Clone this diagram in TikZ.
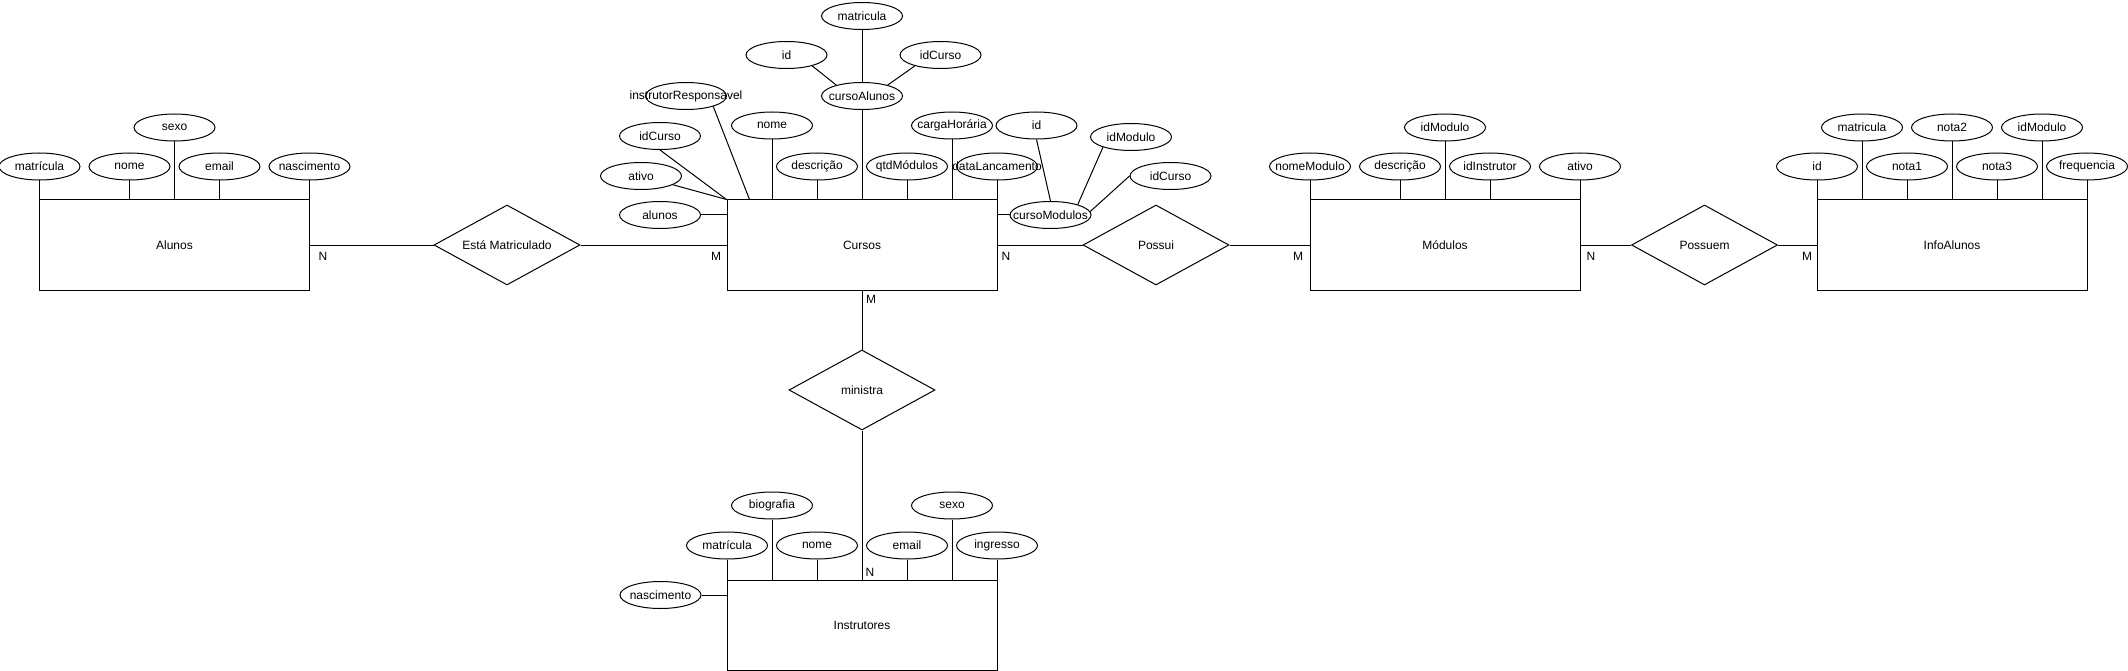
\documentclass[tikz,border=0pt]{standalone}
\usepackage{fontspec}
\setmainfont{Liberation Sans}
\usetikzlibrary{shapes.geometric,calc}
\newcommand{\mytxt}[1]{\makebox[0pt]{#1}}
\begin{document}
\begin{tikzpicture}[x=1pt,y=-1pt,
  every node/.style={font=\fontsize{12}{14}\selectfont},
  ent/.style={draw, line width=1pt, minimum width=270pt, minimum height=90pt, inner sep=0pt},
  attr/.style={draw, ellipse, fill=white, line width=1pt, minimum width=81pt, minimum height=27pt, inner sep=0pt},
  rel/.style={draw, diamond, line width=1pt, minimum width=146pt, minimum height=80pt, inner sep=0pt},
  card/.style={inner sep=0pt},
  link/.style={line width=1pt}]
\useasboundingbox[fill=white] (0,0) rectangle (2128,671);

% entities
\node[ent] (alunos) at (174.5,245) {Alunos};
\node[ent] (cursos) at (862,245) {Cursos};
\node[ent] (modulos) at (1445,245) {Módulos};
\node[ent] (info) at (1952,245) {InfoAlunos};
\node[ent] (instr) at (862,625) {Instrutores};

% relationships
\node[rel] (matric) at (507,245) {\mytxt{Está Matriculado}};
\node[rel] (possui) at (1156,245) {\mytxt{Possui}};
\node[rel] (possuem) at (1704.5,245) {\mytxt{Possuem}};
\node[rel] (ministra) at (862,390) {\mytxt{ministra}};

\draw[link] (alunos.east) -- (matric.west);
\draw[link] (matric.east) -- (cursos.west);
\draw[link] (cursos.east) -- (possui.west);
\draw[link] (possui.east) -- (modulos.west);
\draw[link] (modulos.east) -- (possuem.west);
\draw[link] (possuem.east) -- (info.west);
\draw[link] (cursos.south) -- (ministra.north);
\draw[link] (ministra.south) -- (instr.north);

% cardinalities
\node[card] (n1) at (323,256) {N};
\node[card] (m1) at (716,256) {M};
\node[card] (n2) at (1006,256) {N};
\node[card] (m2) at (1298,256) {M};
\node[card] (n3) at (1591,256) {N};
\node[card] (m3) at (1807,256) {M};
\node[card] (m4) at (871,299) {M};
\node[card] (n4) at (870,572) {N};

% Alunos attributes
\node[attr] (a_mat) at (39.5,166.5) {\mytxt{matrícula}};
\node[attr] (a_nome) at (129.5,166.5) {\mytxt{nome}};
\node[attr] (a_sexo) at (174.5,127.5) {\mytxt{sexo}};
\node[attr] (a_email) at (219.5,166.5) {\mytxt{email}};
\node[attr] (a_nasc) at (309.5,166.5) {\mytxt{nascimento}};
\foreach \n in {a_mat,a_nome,a_sexo,a_email,a_nasc}
  \draw[link] (\n.south) -- (\n.south |- alunos.north);

% Cursos attributes
\node[attr] (c_instr) at (686,96) {\mytxt{instrutorResponsavel}};
\node[attr] (c_idc) at (660,136) {\mytxt{idCurso}};
\node[attr] (c_ativo) at (641,176) {\mytxt{ativo}};
\node[attr] (c_alunos) at (660,215) {\mytxt{alunos}};
\node[attr] (c_nome) at (772,125.5) {\mytxt{nome}};
\node[attr] (c_desc) at (817,166.5) {\mytxt{descrição}};
\node[attr] (c_qtd) at (907,166.5) {\mytxt{qtdMódulos}};
\node[attr] (c_carga) at (952,125.5) {\mytxt{cargaHorária}};
\node[attr] (c_data) at (997,166.5) {\mytxt{dataLancamento}};
\node[attr] (cursoAlunos) at (862,96) {\mytxt{cursoAlunos}};
\node[attr] (ca_mat) at (862,16) {\mytxt{matricula}};
\node[attr] (ca_id) at (786.5,55) {\mytxt{id}};
\node[attr] (ca_idc) at (940.5,55) {\mytxt{idCurso}};
\node[attr] (cursoModulos) at (1050.5,215) {\mytxt{cursoModulos}};
\node[attr] (cm_id) at (1036.5,125.5) {\mytxt{id}};
\node[attr] (cm_idMod) at (1131,137) {\mytxt{idModulo}};
\node[attr] (cm_idc) at (1170.5,176) {\mytxt{idCurso}};

\draw[link] (c_instr.-21) -- ($(cursos.north west)+(23,0)$);
\draw[link] (c_idc.south) -- (cursos.north west);
\draw[link] (c_ativo) -- (cursos.north west);
\draw[link] (c_alunos.east) -- (c_alunos.east -| cursos.west);
\foreach \n in {c_nome,c_desc,c_qtd,c_carga,c_data,cursoAlunos}
  \draw[link] (\n.south) -- (\n.south |- cursos.north);
\draw[link] (ca_mat.south) -- (cursoAlunos.north);
\draw[link] (ca_id.-23) -- (cursoAlunos.157);
\draw[link] (ca_idc.203) -- (cursoAlunos.23);
\draw[link] (cursoModulos.west -| cursos.east) -- (cursoModulos.west);
\draw[link] (cm_id.south) -- (cursoModulos.north);
\draw[link] (cm_idMod.200) -- (cursoModulos.21);
\draw[link] (cm_idc.west) -- (cursoModulos.5);

% Modulos attributes
\node[attr] (m_nome) at (1310,166.5) {\mytxt{nomeModulo}};
\node[attr] (m_desc) at (1400,166.5) {\mytxt{descrição}};
\node[attr] (m_idMod) at (1445,127.5) {\mytxt{idModulo}};
\node[attr] (m_idInst) at (1490,166.5) {\mytxt{idInstrutor}};
\node[attr] (m_ativo) at (1580,166.5) {\mytxt{ativo}};
\foreach \n in {m_nome,m_desc,m_idMod,m_idInst,m_ativo}
  \draw[link] (\n.south) -- (\n.south |- modulos.north);

% InfoAlunos attributes
\node[attr] (i_id) at (1817,166.5) {\mytxt{id}};
\node[attr] (i_mat) at (1862,127.5) {\mytxt{matricula}};
\node[attr] (i_n1) at (1907,166.5) {\mytxt{nota1}};
\node[attr] (i_n2) at (1952,127.5) {\mytxt{nota2}};
\node[attr] (i_n3) at (1997,166.5) {\mytxt{nota3}};
\node[attr] (i_idMod) at (2042,127.5) {\mytxt{idModulo}};
\node[attr] (i_freq) at (2087,166.5) {\mytxt{frequencia}};
\foreach \n in {i_id,i_mat,i_n1,i_n2,i_n3,i_idMod,i_freq}
  \draw[link] (\n.south) -- (\n.south |- info.north);

% Instrutores attributes
\node[attr] (t_mat) at (727,545.5) {\mytxt{matrícula}};
\node[attr] (t_bio) at (772,505.5) {\mytxt{biografia}};
\node[attr] (t_nome) at (817,545.5) {\mytxt{nome}};
\node[attr] (t_email) at (907,545.5) {\mytxt{email}};
\node[attr] (t_sexo) at (952,505.5) {\mytxt{sexo}};
\node[attr] (t_ingr) at (997,545.5) {\mytxt{ingresso}};
\node[attr] (t_nasc) at (660.5,595) {\mytxt{nascimento}};
\foreach \n in {t_mat,t_bio,t_nome,t_email,t_sexo,t_ingr}
  \draw[link] (\n.south) -- (\n.south |- instr.north);
\draw[link] (t_nasc.east) -- (t_nasc.east -| instr.west);
\end{tikzpicture}
\end{document}
